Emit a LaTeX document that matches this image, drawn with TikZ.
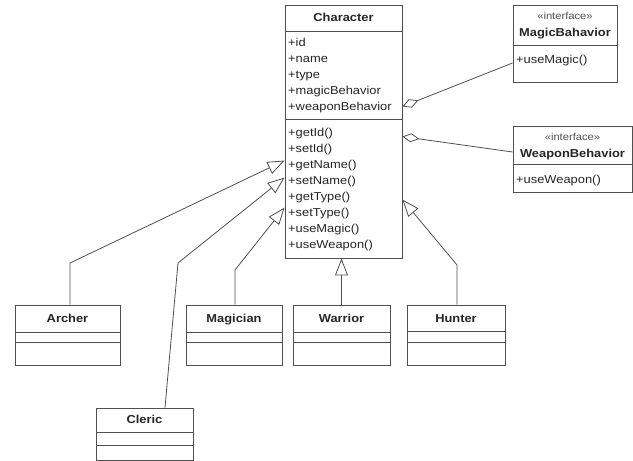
\documentclass[tikz,border=0pt]{standalone}
\usepackage{fontspec}
\setmainfont{Liberation Sans}[FakeStretch=1.12]
\usetikzlibrary{arrows.meta,calc}
\definecolor{linec}{HTML}{505050}
\definecolor{textc}{HTML}{262626}
\tikzset{
 box/.style={draw=linec, line width=0.9pt, fill=white, inner sep=0pt},
 txt/.style={inner sep=0pt, anchor=west, text height=8.5pt, text depth=2.5pt, font=\fontsize{11.5}{13}\selectfont, text=textc},
 ttl/.style={inner sep=0pt, text height=8.5pt, text depth=2.5pt, font=\bfseries\fontsize{11.5}{13}\selectfont, text=textc},
 stereo/.style={inner sep=0pt, text height=7pt, text depth=2pt, font=\fontsize{10}{11}\selectfont, text=textc!80},
 sep/.style={draw=linec, line width=0.9pt},
 conn/.style={draw=linec, line width=0.8pt},
 gen/.style={conn, -{Triangle[open, length=17pt, width=13pt, fill=white]}},
 agg/.style={conn, {Diamond[open, length=17pt, width=9pt, fill=white]}-},
}
\begin{document}
\begin{tikzpicture}[x=1pt,y=-1pt]
\useasboundingbox (0,0) rectangle (633,461);

% Character
\node[box, minimum width=117pt, minimum height=253pt] (char) at (343.5,131.5) {};
\draw[sep] ($(char.north west)+(0,27)$) -- ($(char.north east)+(0,27)$);
\draw[sep] ($(char.north west)+(0,115)$) -- ($(char.north east)+(0,115)$);
\node[ttl] (chart) at (343.5,18.5) {Character};
\node[txt] (a1) at (288,43) {+id};
\node[txt] (a2) at (288,59) {+name};
\node[txt] (a3) at (288,75) {+type};
\node[txt] (a4) at (288,91) {+magicBehavior};
\node[txt] (a5) at (288,107) {+weaponBehavior};
\node[txt] (m1) at (288,133) {+getId()};
\node[txt] (m2) at (288,149) {+setId()};
\node[txt] (m3) at (288,165) {+getName()};
\node[txt] (m4) at (288,181) {+setName()};
\node[txt] (m5) at (288,197) {+getType()};
\node[txt] (m6) at (288,213) {+setType()};
\node[txt] (m7) at (288,229) {+useMagic()};
\node[txt] (m8) at (288,245) {+useWeapon()};

% MagicBehavior
\node[box, minimum width=104pt, minimum height=77pt] (magic) at (565,43.5) {};
\draw[sep] ($(magic.north west)+(0,41)$) -- ($(magic.north east)+(0,41)$);
\node[stereo] (ms) at (565,17) {«interface»};
\node[ttl] (mt) at (565,33) {MagicBahavior};
\node[txt] (mm) at (516,60) {+useMagic()};

% WeaponBehavior
\node[box, minimum width=119pt, minimum height=66pt] (weapon) at (572.5,159) {};
\draw[sep] ($(weapon.north west)+(0,39)$) -- ($(weapon.north east)+(0,39)$);
\node[stereo] (ws) at (572.5,137.5) {«interface»};
\node[ttl] (wt) at (572.5,154) {WeaponBehavior};
\node[txt] (wm) at (516,180) {+useWeapon()};

% Subclasses
\node[box, minimum width=105pt, minimum height=60pt] (archer) at (67.5,335) {};
\draw[sep] ($(archer.north west)+(0,28)$) -- ($(archer.north east)+(0,28)$);
\draw[sep] ($(archer.north west)+(0,38)$) -- ($(archer.north east)+(0,38)$);
\node[ttl] (archert) at (67.5,319) {Archer};

\node[box, minimum width=96pt, minimum height=60pt] (magician) at (234,335) {};
\draw[sep] ($(magician.north west)+(0,28)$) -- ($(magician.north east)+(0,28)$);
\draw[sep] ($(magician.north west)+(0,38)$) -- ($(magician.north east)+(0,38)$);
\node[ttl] (magiciant) at (234,319) {Magician};

\node[box, minimum width=97pt, minimum height=60pt] (warrior) at (341.5,335) {};
\draw[sep] ($(warrior.north west)+(0,28)$) -- ($(warrior.north east)+(0,28)$);
\draw[sep] ($(warrior.north west)+(0,38)$) -- ($(warrior.north east)+(0,38)$);
\node[ttl] (warriort) at (341.5,319) {Warrior};

\node[box, minimum width=98pt, minimum height=60pt] (hunter) at (456,335) {};
\draw[sep] ($(hunter.north west)+(0,27)$) -- ($(hunter.north east)+(0,27)$);
\draw[sep] ($(hunter.north west)+(0,38)$) -- ($(hunter.north east)+(0,38)$);
\node[ttl] (huntert) at (456,319) {Hunter};

\node[box, minimum width=97pt, minimum height=52pt] (cleric) at (144.5,434) {};
\draw[sep] ($(cleric.north west)+(0,25)$) -- ($(cleric.north east)+(0,25)$);
\draw[sep] ($(cleric.north west)+(0,38)$) -- ($(cleric.north east)+(0,38)$);
\node[ttl] (clerict) at (144.5,420.5) {Cleric};

% bend points
\coordinate (ab) at (70,263);
\coordinate (cb) at (178,263);
\coordinate (mb) at (235,270);
\coordinate (hb) at (457,265);

% generalizations
\draw[gen] (archer.north -| ab) -- (ab) -- ($(char.north west)+(0,156)$);
\draw[gen] ($(cleric.north)+(20.5,0)$) -- (cb) -- ($(char.north west)+(0,173)$);
\draw[gen] (magician.north -| mb) -- (mb) -- ($(char.north west)+(0,203)$);
\draw[gen] (warrior.north) -- (warrior.north |- char.south);
\draw[gen] (hunter.north -| hb) -- (hb) -- ($(char.north east)+(0,195)$);

% aggregations
\draw[agg] ($(char.north east)+(0,102)$) -- ($(magic.west)+(0,19.5)$);
\draw[agg] ($(char.north east)+(0,132)$) -- ($(weapon.west)+(0,-7)$);
\end{tikzpicture}
\end{document}
